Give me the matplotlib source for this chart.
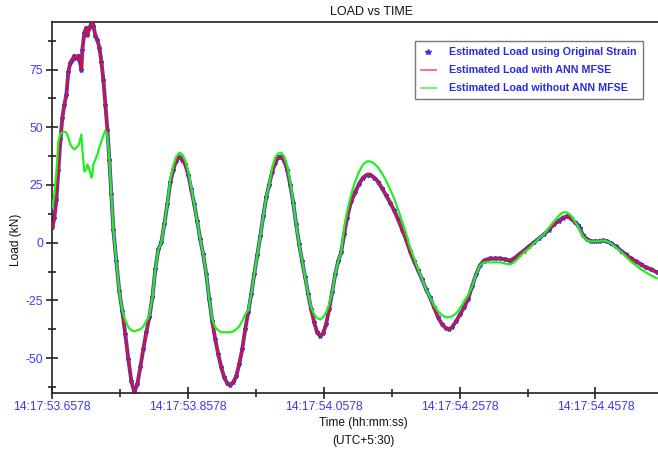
import matplotlib
matplotlib.use("Agg")
import matplotlib.pyplot as plt
from matplotlib.lines import Line2D
from matplotlib.ticker import MultipleLocator, FixedLocator

plt.rcParams['font.family'] = ['Liberation Sans', 'DejaVu Sans']
plt.rcParams['axes.unicode_minus'] = False

# time offset (ms) from 14:17:53.6578
time_ms = [0.6, 3.5, 6.5, 9.4, 12.4, 15.3, 18.2, 21.2, 24.1, 27.1, 30.0, 32.9, 35.9, 38.8, 40.3, 43.2, 44.7,
           47.6, 50.6, 52.1, 55.0, 58.0, 59.4, 60.9, 63.8, 66.8, 69.7, 72.7, 75.6, 78.5, 81.5, 84.4, 87.4,
           90.3, 94.7, 99.1, 103.5, 107.9, 112.4, 116.8, 121.2, 125.6, 130.0, 134.4, 138.8, 143.3, 147.7,
           152.1, 156.5, 160.9, 165.3, 169.7, 174.1, 178.5, 182.9, 187.4, 191.8, 196.2, 200.6, 205.0, 209.4,
           213.8, 218.2, 222.6, 227.1, 231.5, 235.9, 240.3, 244.7, 249.1, 253.5, 257.9, 262.3, 266.8, 271.2,
           275.6, 280.0, 284.4, 288.8, 293.2, 297.6, 302.0, 306.5, 310.9, 315.3, 319.7, 324.1, 328.5, 332.9,
           337.4, 341.8, 346.2, 350.6, 355.0, 359.4, 363.8, 368.2, 372.7, 377.1, 381.5, 385.9, 390.3, 394.7,
           399.1, 403.5, 407.9, 412.4, 416.8, 421.2, 425.6, 430.0, 434.4, 440.3, 446.2, 452.1, 457.9, 463.8,
           468.2, 474.1, 480.0, 485.9, 491.8, 497.7, 503.5, 509.4, 515.3, 521.2, 527.1, 533.0, 538.8, 544.7,
           550.6, 556.5, 562.4, 568.2, 574.1, 580.0, 584.4, 588.9, 594.8, 600.6, 606.5, 612.4, 618.3, 624.2,
           630.0, 635.9, 644.7, 652.1, 659.4, 666.8, 674.1, 680.0, 687.4, 694.7, 702.1, 709.4, 716.8, 724.2,
           731.5, 738.8, 746.2, 752.1, 758.0, 763.9, 769.8, 774.2, 777.1, 781.5, 787.4, 793.3, 799.2, 805.0,
           810.9, 816.8, 822.7, 830.0, 837.4, 844.7, 852.1, 859.4, 866.8, 874.1, 881.5, 890.3]

load_ann = [6.6, 10.9, 18.7, 31.7, 44.7, 54.2, 59.8, 64.1, 74.1, 78.0, 79.3, 81.0, 80.1, 81.0, 79.3, 75.0, 83.6,
            91.0, 93.1, 90.1, 93.1, 94.8, 96.1, 94.0, 89.7, 87.9, 84.5, 78.4, 70.6, 59.8, 49.0, 36.0, 20.9,
            5.7, -8.1, -21.1, -29.7, -39.7, -50.5, -60.0, -64.7, -61.3, -53.9, -46.1, -38.8, -32.3, -23.7,
            -11.5, -2.9, 0.1, 7.9, 16.6, 26.1, 31.7, 35.6, 37.3, 36.0, 33.9, 29.5, 23.1, 16.6,
            9.2, 1.4, -5.1, -13.7, -24.5, -34.0, -41.8, -48.3, -53.9, -58.3, -60.9, -61.7, -60.4, -57.8,
            -52.6, -46.1, -37.5, -30.1, -22.4, -13.7, -5.5, 2.7, 11.4, 19.6, 25.2, 30.8, 34.7, 36.9,
            37.3, 35.6, 31.7, 25.2, 17.4, 7.9, -0.7, -8.1, -15.0, -22.4, -28.8, -34.5, -38.8, -40.5,
            -39.2, -35.3, -28.8, -21.5, -13.7, -8.1, -4.2, 3.6, 10.9, 17.9, 21.8, 25.6, 28.2, 29.5,
            29.5, 28.2, 26.5, 23.5, 20.5, 17.4, 14.0, 10.1, 5.7, 1.4, -3.8, -8.1, -12.0, -15.9,
            -20.2, -23.7, -28.0, -32.3, -35.3, -37.1, -37.5, -36.6, -34.0, -31.0, -28.0, -24.5, -18.9, -13.7,
            -9.8, -7.7, -6.8, -6.8, -6.8, -7.2, -7.7, -6.8, -5.1, -3.4, -1.6, 0.1, 1.9, 3.6,
            5.7, 7.9, 9.6, 10.9, 11.4, 10.5, 8.8, 7.5, 6.2, 3.2, 1.4, 0.6, 0.6, 0.6,
            1.0, 0.6, -0.3, -1.6, -3.4, -5.1, -6.8, -8.1, -9.4, -10.7, -11.5, -12.8]

load_original = [6.6, 10.9, 18.7, 31.7, 44.7, 54.2, 59.8, 64.1, 74.1, 78.0, 79.3, 81.0, 80.1, 81.0, 79.3, 75.0, 83.6,
                 91.0, 93.1, 90.1, 93.1, 94.8, 96.1, 94.0, 89.7, 87.9, 84.5, 78.4, 70.6, 59.8, 49.0, 36.0, 20.9,
                 5.7, -8.1, -21.1, -29.7, -39.7, -50.5, -60.0, -64.7, -61.3, -53.9, -46.1, -38.8, -32.3, -23.7,
                 -11.5, -2.9, 0.1, 7.9, 16.6, 26.1, 31.7, 35.6, 37.3, 36.0, 33.9, 29.5, 23.1, 16.6,
                 9.2, 1.4, -5.1, -13.7, -24.5, -34.0, -41.8, -48.3, -53.9, -58.3, -60.9, -61.7, -60.4, -57.8,
                 -52.6, -46.1, -37.5, -30.1, -22.4, -13.7, -5.5, 2.7, 11.4, 19.6, 25.2, 30.8, 34.7, 36.9,
                 37.3, 35.6, 31.7, 25.2, 17.4, 7.9, -0.7, -8.1, -15.0, -22.4, -28.8, -34.5, -38.8, -40.5,
                 -39.2, -35.3, -28.8, -21.5, -13.7, -8.1, -4.2, 3.6, 10.9, 17.9, 21.8, 25.6, 28.2, 29.5,
                 29.5, 28.2, 26.5, 23.5, 20.5, 17.4, 14.0, 10.1, 5.7, 1.4, -3.8, -8.1, -12.0, -15.9,
                 -20.2, -23.7, -28.0, -32.3, -35.3, -37.1, -37.5, -36.6, -34.0, -31.0, -28.0, -24.5, -18.9, -13.7,
                 -9.8, -7.7, -6.8, -6.8, -6.8, -7.2, -7.7, -6.8, -5.1, -3.4, -1.6, 0.1, 1.9, 3.6,
                 5.7, 7.9, 9.6, 10.9, 11.4, 10.5, 8.8, 7.5, 6.2, 3.2, 1.4, 0.6, 0.6, 0.6,
                 1.0, 0.6, -0.3, -1.6, -3.4, -5.1, -6.8, -8.1, -9.4, -10.7, -11.5, -12.8]

load_no_ann = [15.3, 20.9, 30.8, 43.8, 47.3, 47.7, 48.1, 47.7, 45.5, 42.5, 41.2, 40.4, 41.2, 42.1, 43.4, 46.8, 40.4,
               30.8, 31.7, 33.9, 31.7, 28.2, 29.5, 33.9, 36.0, 38.2, 41.2, 43.8, 46.4, 48.6, 46.8, 36.0, 20.9,
               5.7, -8.1, -21.1, -29.3, -33.6, -36.6, -37.9, -38.4, -37.9, -37.5, -36.2, -34.0, -31.4, -23.7,
               -11.5, -2.9, 0.1, 7.9, 16.6, 27.4, 33.4, 37.3, 39.0, 38.2, 35.6, 30.8, 23.9, 16.6,
               9.2, 1.4, -5.1, -13.7, -24.5, -33.2, -36.6, -37.9, -38.8, -38.8, -38.8, -38.8, -38.4, -37.5,
               -36.2, -34.0, -31.0, -29.3, -22.4, -13.7, -5.5, 2.7, 11.4, 19.6, 25.2, 32.6, 36.9, 38.6,
               39.0, 37.3, 33.4, 26.5, 17.4, 7.9, -0.7, -8.1, -15.0, -22.4, -28.0, -31.0, -32.7, -33.2,
               -32.3, -30.1, -26.7, -21.5, -13.7, -8.1, -4.2, 6.6, 13.5, 20.9, 26.5, 30.8, 33.9, 35.2,
               35.2, 34.3, 32.6, 30.0, 26.9, 23.1, 19.2, 14.4, 9.2, 4.0, -2.0, -6.8, -11.5, -15.9,
               -20.2, -23.7, -27.1, -29.7, -31.4, -32.3, -32.3, -31.9, -30.6, -28.4, -25.4, -22.8, -18.9, -13.7,
               -9.8, -8.5, -8.5, -8.5, -8.5, -9.0, -9.4, -8.5, -6.4, -4.2, -2.5, -0.3, 1.9, 3.6,
               6.6, 9.2, 11.8, 13.1, 13.1, 11.8, 9.2, 7.1, 5.3, 2.7, 1.0, 0.6, 0.6, 0.6,
               1.0, 0.6, -0.3, -2.0, -3.8, -6.0, -8.1, -9.8, -11.5, -12.8, -14.1, -15.4]

tick_ms = [0, 200, 400, 600, 800]
tick_labels = ["14:17:53.6578", "14:17:53.8578", "14:17:54.0578", "14:17:54.2578", "14:17:54.4578"]
ytick_vals = [-50, -25, 0, 25, 50, 75]

series_labels = ["Estimated Load using Original Strain",
                 "Estimated Load with ANN MFSE",
                 "Estimated Load without ANN MFSE"]

BLUE_TXT = '#3a3aee'

fig = plt.figure(figsize=(6.58, 4.5), dpi=100)
ax = fig.add_axes([52/658, 1-393.3/450, 606/658, (393.3-21.7)/450])

ax.plot(time_ms, load_original, color='#4a3ad0', lw=2.8, zorder=2)
ax.plot(time_ms, load_original, ls='none', marker='*', ms=3.2, color='#3b3bd0', zorder=2)
ax.plot(time_ms, load_ann, color='#e0102a', lw=1.5, zorder=3)
ax.plot(time_ms, load_no_ann, color='#22ee22', lw=1.6, zorder=4)

ax.set_xlim(0, 892)
ax.set_ylim(-65.2, 95.7)
ax.xaxis.set_major_locator(FixedLocator(tick_ms))
ax.set_xticklabels(tick_labels)
ax.xaxis.set_minor_locator(MultipleLocator(100))
ax.yaxis.set_major_locator(FixedLocator(ytick_vals))
ax.yaxis.set_minor_locator(MultipleLocator(12.5))

ax.spines['right'].set_visible(False)
for s in ['left', 'bottom', 'top']:
    ax.spines[s].set_linewidth(1.2)
    ax.spines[s].set_color('#222222')

ax.tick_params(axis='both', which='major', direction='inout', length=9, width=1.2,
               colors='#222222', labelcolor=BLUE_TXT, labelsize=8.8, pad=2)
ax.tick_params(axis='both', which='minor', direction='inout', length=6, width=1.2, colors='#222222')
ax.tick_params(axis='x', which='major', pad=1)

fig.text(372/658, 1-12/450, "LOAD vs TIME", ha='center', va='center', fontsize=9, color='#111111')
fig.text(363/658, 1-423/450, "Time (hh:mm:ss)", ha='center', va='center', fontsize=8.6, color='#111111')
fig.text(363/658, 1-441/450, "(UTC+5:30)", ha='center', va='center', fontsize=8.6, color='#111111')
fig.text(16/658, 1-240/450, "Load (kN)", ha='center', va='center', rotation=90, fontsize=8.6, color='#111111')

handles = [Line2D([], [], ls='none', marker='*', ms=4, color='#3b3bd0'),
           Line2D([], [], color='#ff5566', lw=1.2),
           Line2D([], [], color='#55ee55', lw=1.2)]
leg = ax.legend(handles, series_labels, loc='upper right', bbox_to_anchor=(0.975, 0.947),
                fancybox=False, framealpha=1, edgecolor='#777777',
                prop={'weight': 'bold', 'size': 7.7}, handlelength=1.4, handletextpad=1.3,
                labelspacing=0.75, borderpad=0.55, borderaxespad=0)
leg.get_frame().set_linewidth(1.0)
for t in leg.get_texts():
    t.set_color('#2b2bdd')

fig.savefig("out.png", dpi=100)
